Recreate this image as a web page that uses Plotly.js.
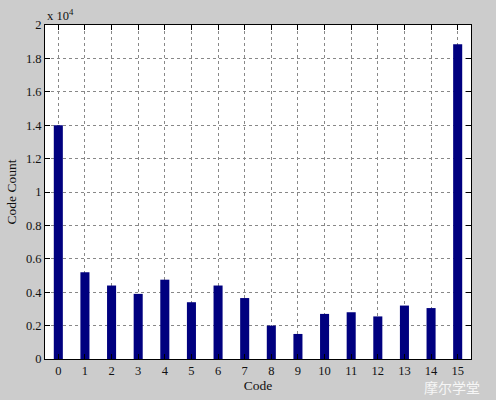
<!DOCTYPE html>
<html>
<head>
<meta charset="utf-8">
<script src="https://cdn.plot.ly/plotly-3.0.1.min.js"></script>
<style>html,body{margin:0;padding:0;background:#cccccc;}#chart{width:496px;height:400px;}</style>
</head>
<body>
<div id="chart"></div>
<script>
const codes = [0,1,2,3,4,5,6,7,8,9,10,11,12,13,14,15];
const counts = [14000,5200,4400,3900,4750,3400,4400,3650,2000,1500,2700,2800,2550,3200,3050,18850];
const yTickVals = [0,2000,4000,6000,8000,10000,12000,14000,16000,18000,20000];
const yTickText = ['0','0.2','0.4','0.6','0.8','1','1.2','1.4','1.6','1.8','2'];
const xTitle = 'Code';
const yTitle = 'Code Count';
const expLabel = 'x 10<sup>4</sup>';
const watermark = '摩尔学堂';

const serif = 'Liberation Serif, Times New Roman, serif';
const trace = {
  type: 'bar', x: codes, y: counts, width: 0.34,
  marker: {color: '#00007f', line: {width: 0}},
  hoverinfo: 'none'
};
const layout = {
  width: 496, height: 400,
  paper_bgcolor: '#cccccc', plot_bgcolor: '#ffffff',
  margin: {l: 45, r: 25, t: 25, b: 41},
  showlegend: false,
  font: {family: serif, size: 12, color: '#111'},
  xaxis: {
    range: [-0.5, 15.5], tickvals: codes, ticktext: codes.map(String),
    ticks: 'inside', ticklen: 5, tickcolor: '#000', mirror: 'allticks',
    showline: true, linecolor: '#000', linewidth: 1,
    showgrid: true, gridcolor: '#888', griddash: 'dot', gridwidth: 1,
    zeroline: false,
    tickfont: {family: serif, size: 12.5, color: '#111'},
    title: {text: xTitle, font: {family: serif, size: 13.5, color: '#111'}, standoff: 2}
  },
  yaxis: {
    range: [0, 20000], tickvals: yTickVals, ticktext: yTickText,
    ticks: 'inside', ticklen: 5, tickcolor: '#000', mirror: 'allticks',
    showline: true, linecolor: '#000', linewidth: 1,
    showgrid: true, gridcolor: '#888', griddash: 'dot', gridwidth: 1,
    zeroline: false,
    tickfont: {family: serif, size: 12.5, color: '#111'},
    title: {text: yTitle, font: {family: serif, size: 13.5, color: '#111'}, standoff: 6}
  },
  annotations: [
    {text: expLabel, xref: 'paper', yref: 'paper', x: 0, y: 1, xanchor: 'left', yanchor: 'bottom',
     showarrow: false, font: {family: serif, size: 12.5, color: '#111'}},
    {text: watermark, xref: 'paper', yref: 'paper', x: 1.023, y: -0.085, xanchor: 'right', yanchor: 'middle',
     borderpad: 0, showarrow: false, font: {family: 'Noto Sans CJK SC', size: 14, color: '#f6f6f6'}}
  ]
};
Plotly.newPlot('chart', [trace], layout, {staticPlot: true, displayModeBar: false});
</script>
</body>
</html>
